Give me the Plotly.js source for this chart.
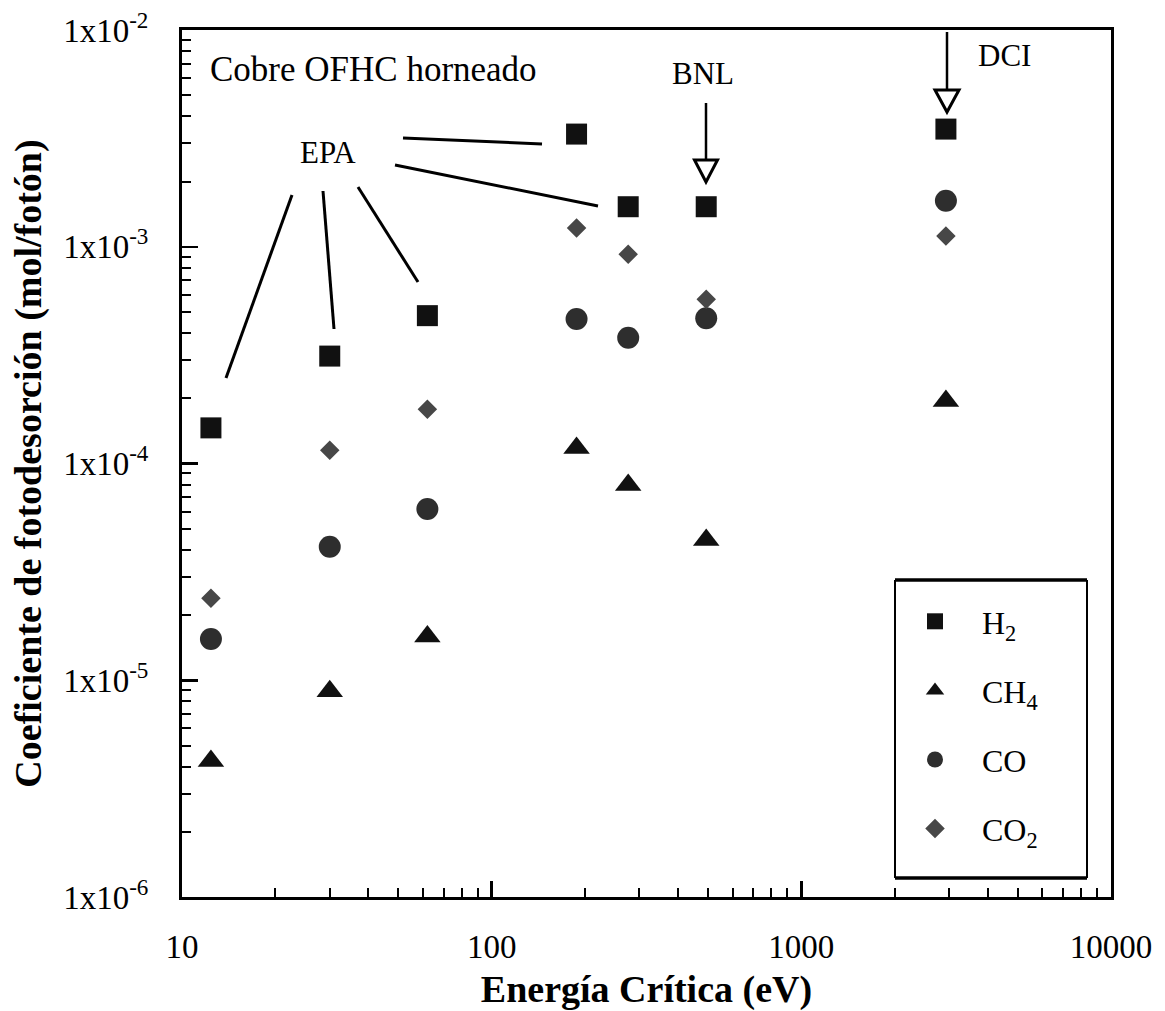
<!DOCTYPE html>
<html>
<head>
<meta charset="utf-8">
<script src="https://cdn.plot.ly/plotly-3.0.1.min.js"></script>
<style>html,body{margin:0;padding:0;background:#fff;}#chart{width:1165px;height:1011px;}</style>
</head>
<body>
<div id="chart"></div>
<script>
// ---- data ----
const energy = [12.4, 30, 62, 188, 276, 493, 2930];          // critical energy (eV)
const h2  = [1.46e-4, 3.13e-4, 4.81e-4, 3.31e-3, 1.53e-3, 1.53e-3, 3.49e-3];
const ch4 = [4.24e-6, 8.9e-6, 1.59e-5, 1.18e-4, 7.96e-5, 4.44e-5, 1.94e-4];
const co  = [1.55e-5, 4.13e-5, 6.17e-5, 4.64e-4, 3.80e-4, 4.68e-4, 1.63e-3];
const co2 = [2.39e-5, 1.15e-4, 1.78e-4, 1.22e-3, 9.23e-4, 5.72e-4, 1.12e-3];
const seriesNames = ['H<sub>2</sub>', 'CH<sub>4</sub>', 'CO', 'CO<sub>2</sub>'];
const xTickVals = [10, 100, 1000, 10000];
const xTickText = ['10', '100', '1000', '10000'];
const yTickVals = [1e-6, 1e-5, 1e-4, 1e-3, 1e-2];
const yTickText = ['1x10<sup>-6</sup>', '1x10<sup>-5</sup>', '1x10<sup>-4</sup>', '1x10<sup>-3</sup>', '1x10<sup>-2</sup>'];
const labelMain = 'Cobre OFHC horneado';
const labelEPA = 'EPA', labelBNL = 'BNL', labelDCI = 'DCI';
const xTitle = 'Energía Crítica (eV)';
const yTitle = 'Coeficiente de fotodesorción (mol/fotón)';

// ---- layout helpers ----
const W = 1165, H = 1011, ML = 182, MR = 54, MT = 30, MB = 114;
const PW = W - ML - MR, PH = H - MT - MB;
const px = x => (x - ML) / PW;
const py = y => (H - MB - y) / PH;
const FONT = 'Liberation Serif, Times New Roman, serif';

function minorVals(d0, d1) {
  const out = [];
  for (let d = d0; d < d1; d++) for (let k = 2; k <= 9; k++) out.push(k * Math.pow(10, d));
  return out;
}

function mk(name, y, symbol, size, color, group) {
  return {
    type: 'scatter', mode: 'markers', x: energy, y: y, name: name,
    legendgroup: group,
    marker: {symbol: symbol, size: size, color: color, line: {width: 0}},
    hoverinfo: 'x+y+name'
  };
}

const traces = [
  mk(seriesNames[0], h2, 'square', 21, '#111', 'g1'),
  mk(seriesNames[1], ch4, 'triangle-up', 23, '#111', 'g2'),
  mk(seriesNames[2], co, 'circle', 22, '#2e2e2e', 'g3'),
  mk(seriesNames[3], co2, 'diamond', 15, '#474747', 'g4')
];

function seg(x0, y0, x1, y1, w) {
  return {type: 'line', xref: 'paper', yref: 'paper', x0: px(x0), y0: py(y0), x1: px(x1), y1: py(y1),
          line: {color: 'black', width: w || 3}};
}
function head(xc, yTop, halfW, yTip) {
  const p = `M ${px(xc - halfW)} ${py(yTop)} L ${px(xc + halfW)} ${py(yTop)} L ${px(xc)} ${py(yTip)} Z`;
  return {type: 'path', xref: 'paper', yref: 'paper', path: p, fillcolor: 'white', line: {color: 'black', width: 3}};
}

const shapes = [
  // EPA connectors
  seg(292, 195, 226, 378), seg(323, 191, 334, 329), seg(358, 187, 418, 282),
  seg(403, 138, 542, 144), seg(395, 165, 598, 206),
  // BNL arrow
  seg(706, 103, 706, 160, 2.5), head(706, 160, 11.5, 182),
  // DCI arrow
  seg(947, 32, 947, 90, 2.5), head(947, 90, 12, 112),
  // legend frame
  seg(895, 580, 1087, 580, 3.5), seg(895, 878, 1087, 878, 3.5),
  seg(895, 580, 895, 878, 2), seg(1087, 580, 1087, 878, 2)
];

function txt(text, x, y, xanchor, size) {
  return {text: text, xref: 'paper', yref: 'paper', x: px(x), y: py(y), xanchor: xanchor, yanchor: 'middle',
          showarrow: false, font: {family: FONT, size: size || 31, color: 'black'}};
}
const annotations = [
  txt(labelMain, 208, 70, 'left', 35),
  txt(labelEPA, 328, 153, 'center', 31),
  txt(labelBNL, 703, 73, 'center', 31),
  txt(labelDCI, 976, 55, 'left', 31)
];

const axisCommon = {
  type: 'log', showline: true, linewidth: 3, linecolor: 'black', mirror: true,
  ticks: 'inside', ticklen: 16, tickwidth: 2.5, tickcolor: 'black',
  tickmode: 'array', showgrid: false, zeroline: false,
  tickfont: {family: FONT, size: 33, color: 'black'}
};

const layout = {
  width: W, height: H,
  margin: {l: ML, r: MR, t: MT, b: MB},
  paper_bgcolor: 'white', plot_bgcolor: 'white',
  font: {family: FONT, color: 'black'},
  xaxis: Object.assign({}, axisCommon, {
    range: [1, 4], tickvals: xTickVals, ticktext: xTickText, ticklabelstandoff: 18,
    minor: {tickmode: 'array', tickvals: minorVals(1, 4), ticks: 'inside', ticklen: 9, tickwidth: 2, tickcolor: 'black', showgrid: false},
    title: {text: '<b>' + xTitle + '</b>', font: {family: FONT, size: 38, color: 'black'}, standoff: 18}
  }),
  yaxis: Object.assign({}, axisCommon, {
    range: [-6, -2], tickvals: yTickVals, ticktext: yTickText, ticklabelstandoff: 24,
    minor: {tickmode: 'array', tickvals: minorVals(-6, -2), ticks: 'inside', ticklen: 9, tickwidth: 2, tickcolor: 'black', showgrid: false},
    title: {text: '<b>' + yTitle + '</b>', font: {family: FONT, size: 38, color: 'black'}, standoff: 10}
  }),
  showlegend: true,
  legend: {
    x: px(888), y: py(594), xanchor: 'left', yanchor: 'top',
    bgcolor: 'rgba(0,0,0,0)', borderwidth: 0,
    font: {family: FONT, size: 32, color: 'black'},
    traceorder: 'grouped', tracegroupgap: 24.5, itemsizing: 'trace', itemwidth: 84
  },
  shapes: shapes,
  annotations: annotations
};

Plotly.newPlot('chart', traces, layout, {displayModeBar: false, staticPlot: true});
</script>
</body>
</html>
